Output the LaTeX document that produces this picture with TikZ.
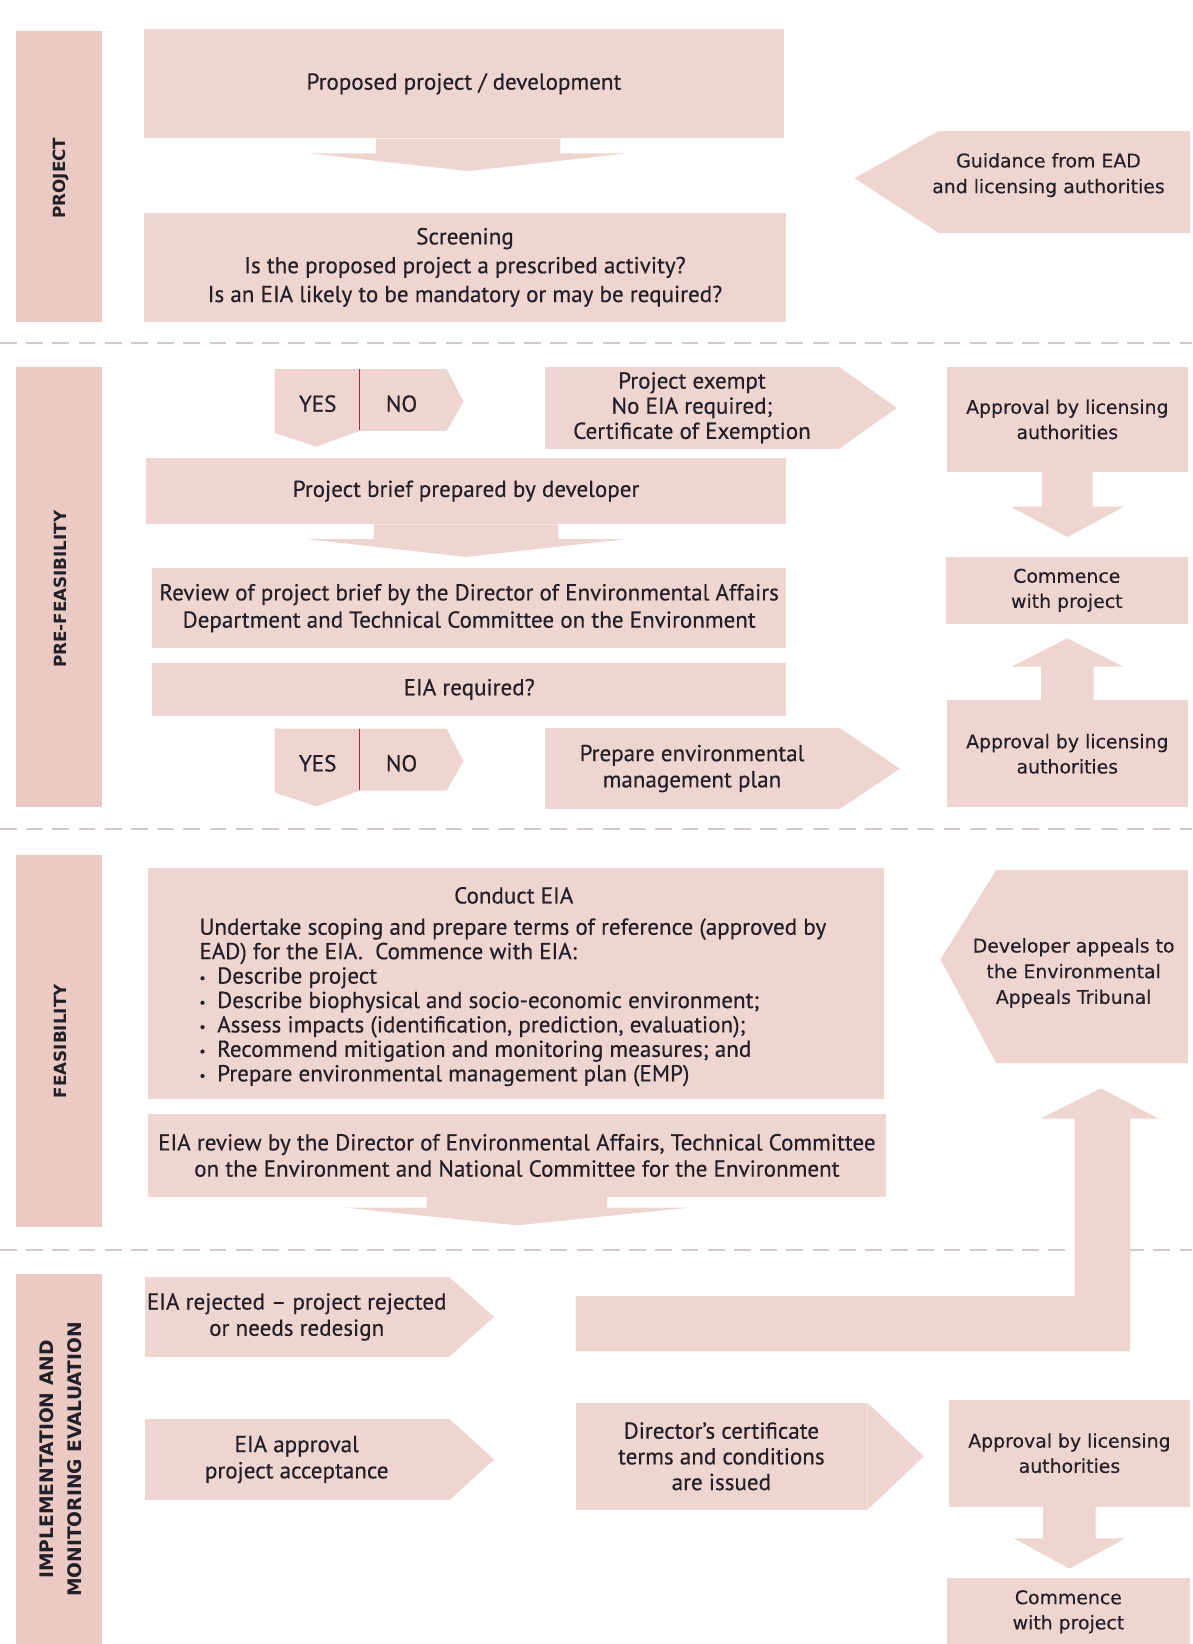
\documentclass[tikz,border=0pt]{standalone}
\usepackage{fontspec}
\setmainfont{PT Sans}[FakeBold=0.4]
\newfontfamily\rcolfont{DejaVu Sans}[FakeBold=0.3]
\newfontfamily\tabfont{DejaVu Sans}
\usetikzlibrary{calc}

\definecolor{boxpink}{RGB}{239,213,207}
\definecolor{barpink}{RGB}{235,202,196}
\definecolor{ink}{RGB}{34,31,40}
\definecolor{divgray}{RGB}{212,200,202}
\definecolor{splitred}{RGB}{170,40,52}

\tikzset{
  card/.style={fill=boxpink, draw=none, inner sep=0pt, align=center, text=ink,
    font=\fontsize{22}{25}\selectfont},
  rcard/.style={card, font=\rcolfont\fontsize{18}{24}\selectfont},
  lbl/.style={text=ink, align=center, inner sep=0pt, font=\fontsize{22}{25}\selectfont},
  rlbl/.style={lbl, font=\rcolfont\fontsize{18}{24.5}\selectfont},
  sidebar/.style={fill=barpink, draw=none, inner sep=0pt},
  sidelabel/.style={rotate=90, text=ink, align=center, inner sep=0pt,
    font=\tabfont\bfseries\fontsize{16}{27}\selectfont},
  divider/.style={draw=divgray, line width=2pt, dash pattern=on 16pt off 9pt},
  blk/.style={fill=boxpink, draw=none},
  splitline/.style={draw=splitred, line width=1.6pt},
  dotitem/.style={},
  % fat block arrow: half stem width / half head width / head base depth / tip depth
  pics/downblk/.style args={#1/#2/#3/#4}{code={
    \fill[blk] (-#1,0) -- (-#1,#3) -- (-#2,#3) -- (0,#4) -- (#2,#3) -- (#1,#3) -- (#1,0) -- cycle;
  }},
  % YES | NO split tag
  pics/yesno/.style={code={
    \fill[blk] (0,0) -- (164,0) -- (180,31) -- (164,59) -- (81,59) -- (40,74) -- (0,61) -- cycle;
    \draw[splitline] (81,0) -- (81,58);
    \node[lbl] (-yes) at (41,33) {YES};
    \node[lbl] (-no) at (121,33) {NO};
  }},
}
\newcommand{\itemdot}{\makebox[17pt][l]{\raisebox{1pt}{\fontsize{13}{13}\selectfont\textbullet}}}

\begin{document}
\begin{tikzpicture}[x=1pt,y=-1pt]
\useasboundingbox (0,0) rectangle (1137,1568);
\fill[white] (0,0) rectangle (1137,1568);

% ---------- stage bars ----------
\node[sidebar, minimum width=82pt, minimum height=277pt] (barproj) at (56,168.5) {};
\node[sidelabel] (labproj) at (58,170) {PROJECT};
\node[sidebar, minimum width=82pt, minimum height=420pt] (barpre) at (56,560) {};
\node[sidelabel] (labpre) at (58,562) {PRE-FEASIBILITY};
\node[sidebar, minimum width=82pt, minimum height=355pt] (barfeas) at (56,992.5) {};
\node[sidelabel] (labfeas) at (58,993) {FEASIBILITY};
\node[sidebar, minimum width=82pt, minimum height=353pt] (barimp) at (56,1391.5) {};
\node[sidelabel, font=\tabfont\bfseries\fontsize{17.8}{27}\selectfont] (labimp) at (58,1392)
  {IMPLEMENTATION AND\\MONITORING EVALUATION};

% ---------- stage separators ----------
\coordinate (sepAl) at (0,327);  \coordinate (sepAr) at (1137,327);
\coordinate (sepBl) at (0,791);  \coordinate (sepBr) at (1137,791);
\coordinate (sepCl) at (0,1192); \coordinate (sepCr) at (1137,1192);
\draw[divider] (sepAl) -- (sepAr);
\draw[divider] (sepBl) -- (sepBr);
\draw[divider] (sepCl) -- (sepCr);

% ---------- project ----------
\node[card, minimum width=611pt, minimum height=104pt] (prop) at (442.5,80)
  {Proposed project / development};
\path ([xshift=4pt]prop.south) pic {downblk={88/152/14/31}};
\node[card, minimum width=613pt, minimum height=104pt,
  font=\fontsize{22}{27.5}\selectfont] (screen) at (443.5,255)
  {Screening\\Is the proposed project a prescribed activity?\\Is an EIA likely to be mandatory or may be required?};

\fill[blk] (1135,125) -- (895,125) -- (815,170) -- (895,222) -- (1135,222) -- cycle;
\node[rlbl] (guide) at (1000,167) {Guidance from EAD\\and licensing authorities};

% ---------- pre-feasibility ----------
\pic (ynA) at (262,352) {yesno};

\node[card, minimum width=280pt, minimum height=78pt,
  font=\fontsize{22}{24}\selectfont] (exempt) at (660,389)
  {Project exempt\\No EIA required;\\Certificate of Exemption};
\fill[blk] (exempt.north east) -- ($(exempt.east)+(55,0)$) -- (exempt.south east) -- cycle;

\node[rcard, minimum width=230pt, minimum height=100pt] (apprA) at (1018,400)
  {Approval by licensing\\authorities};
\path (apprA.south) pic {downblk={24/54/33/62}};
\node[rcard, minimum width=231pt, minimum height=64pt] (startA) at (1017.5,563)
  {Commence\\with project};
\node[rcard, minimum width=230pt, minimum height=102pt] (apprB) at (1018,719)
  {Approval by licensing\\authorities};
\path (apprB.north) pic {downblk={25/53/-32/-59}};

\node[card, minimum width=611pt, minimum height=63pt] (brief) at (444.5,468.5)
  {Project brief prepared by developer};
\path (brief.south) pic {downblk={88/152/14/31}};
\node[card, minimum width=605pt, minimum height=77pt,
  font=\fontsize{22}{26}\selectfont] (review) at (447.5,580)
  {Review of project brief by the Director of Environmental Affairs\\Department and Technical Committee on the Environment};
\node[card, minimum width=605pt, minimum height=51pt] (eiareq) at (447.5,657.5)
  {EIA required?};

\pic (ynB) at (262,695) {yesno};

\node[card, minimum width=280pt, minimum height=78pt] (emp) at (660,733)
  {Prepare environmental\\management plan};
\fill[blk] (emp.north east) -- ($(emp.east)+(58,0)$) -- (emp.south east) -- cycle;

% ---------- feasibility ----------
\node[card, minimum width=702pt, minimum height=220pt] (conduct) at (492,938) {};
\node[lbl] (conducttitle) at (490,854) {Conduct EIA};
\node[lbl, align=left, anchor=west, font=\fontsize{22}{23.3}\selectfont] (conductbody) at (190,956)
  {Undertake scoping and prepare terms of reference (approved by\\
   EAD) for the EIA.\ \ Commence with EIA:\\
   \itemdot Describe project\\
   \itemdot Describe biophysical and socio-economic environment;\\
   \itemdot Assess impacts (identification, prediction, evaluation);\\
   \itemdot Recommend mitigation and monitoring measures; and\\
   \itemdot Prepare environmental management plan (EMP)};

\fill[blk] (1133,830) -- (950,830) -- (897,915) -- (950,1014) -- (1133,1014) -- cycle;
\node[rlbl] (appeal) at (1024,928) {Developer appeals to\\the Environmental\\Appeals Tribunal};

\node[card, minimum width=704pt, minimum height=79pt] (eiarev) at (493,1102)
  {EIA review by the Director of Environmental Affairs, Technical Committee\\on the Environment and National Committee for the Environment};
\path (eiarev.south) pic {downblk={86/165/10/27}};

% ---------- implementation and monitoring ----------
\node[card, minimum width=290pt, minimum height=76pt] (reject) at (283,1256)
  {EIA rejected -- project rejected\\or needs redesign};
\fill[blk] (reject.north east) -- ($(reject.east)+(43,0)$) -- (reject.south east) -- cycle;

% rejection routes back up to the appeal
\coordinate (loopA) at (549,1236);
\coordinate (loopB) at (549,1289);
\coordinate (looptip) at (1050,1038);
\fill[blk] (loopA) -- (1025,1236) -- (1025,1067) -- (992,1067)
  -- (looptip) -- (1105,1067) -- (1078,1067)
  -- (1078,1289) -- (loopB) -- cycle;

\node[card, minimum width=290pt, minimum height=78pt] (accept) at (283,1392)
  {EIA approval\\project acceptance};
\fill[blk] (accept.north east) -- ($(accept.east)+(43,0)$) -- (accept.south east) -- cycle;

\node[card, minimum width=278pt, minimum height=102pt,
  font=\fontsize{22}{24.5}\selectfont] (cert) at (688,1389)
  {Director’s certificate\\terms and conditions\\are issued};
\fill[blk] (cert.north east) -- ($(cert.east)+(54,0)$) -- (cert.south east) -- cycle;

\node[rcard, minimum width=230pt, minimum height=102pt] (apprC) at (1020,1386)
  {Approval by licensing\\authorities};
\path (apprC.south) pic {downblk={25/53/30/59}};
\node[rcard, minimum width=232pt, minimum height=64pt, anchor=north] (startB) at (1019,1505)
  {Commence\\with project};
\end{tikzpicture}
\end{document}
